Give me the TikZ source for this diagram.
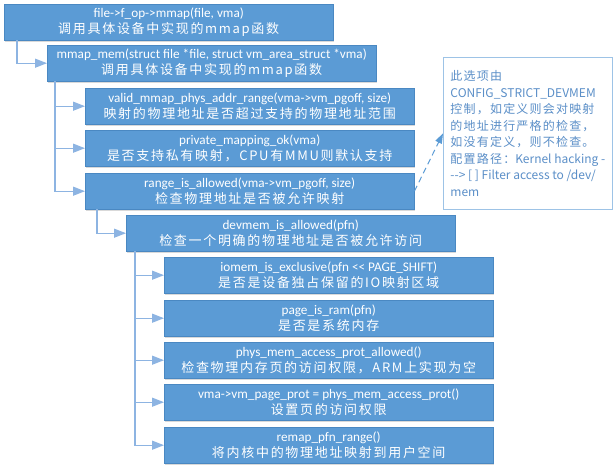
\documentclass[tikz,border=0pt]{standalone}
\usepackage{fontspec}
\setmainfont{Carlito}
\newfontfamily\cjk{Noto Sans CJK SC}
\usetikzlibrary{arrows.meta,calc,shadows}
\definecolor{boxblue}{HTML}{5B9BD5}
\definecolor{boxedge}{HTML}{4A88C2}
\definecolor{linkblue}{HTML}{8DB4E2}
\definecolor{notetext}{HTML}{5B8FC8}
\definecolor{noteborder}{HTML}{9DC3E6}
\makeatletter
\newcommand\spc[2]{\@tfor\zz:=#2\do{\zz\hskip#1}\unskip}
\makeatother
\newcommand\zhtxt[1]{{\cjk\fontsize{13pt}{16.5pt}\selectfont\spc{1.7pt}{#1}}}
\newcommand\zn[1]{\spc{1.2pt}{#1}}
\begin{document}
\begin{tikzpicture}[x=1pt,y=1pt,
  fbox/.style={anchor=north west, fill=boxblue, draw=boxedge, line width=0.4pt,
    minimum width=329pt, minimum height=36pt, inner sep=0pt, text=white,
    align=center, font=\fontsize{13.2pt}{16.5pt}\selectfont,
    drop shadow={shadow xshift=0.6pt, shadow yshift=-1.6pt, fill=black, opacity=0.15}},
  link/.style={draw=linkblue, line width=1.3pt, -{Triangle[length=12pt,width=9pt,fill=linkblue]}},
  notebox/.style={anchor=north west, draw=noteborder, fill=white, line width=0.8pt,
    minimum width=169pt, minimum height=152pt, inner xsep=6pt, inner ysep=0pt,
    text=notetext, align=left, font=\cjk\fontsize{12pt}{16.5pt}\selectfont},
  dlink/.style={draw=boxblue, line width=1pt, dash pattern=on 6pt off 4pt,
    -{Triangle[length=10pt,width=7pt,fill=boxblue]}}
]
\useasboundingbox (0,0) rectangle (613,-470);
\node[fbox] (b1) at (4,-4) {file->f\_op->mmap(file, vma)\\\zhtxt{调用具体设备中实现的mmap函数}};
\node[fbox] (b2) at (47,-45) {mmap\_mem(struct file *file, struct vm\_area\_struct *vma)\\\zhtxt{调用具体设备中实现的mmap函数}};
\node[fbox] (b3) at (85,-88) {valid\_mmap\_phys\_addr\_range(vma->vm\_pgoff, size)\\\zhtxt{映射的物理地址是否超过支持的物理地址范围}};
\node[fbox] (b4) at (85,-130) {private\_mapping\_ok(vma)\\\zhtxt{是否支持私有映射，CPU有MMU则默认支持}};
\node[fbox] (b5) at (85,-173) {range\_is\_allowed(vma->vm\_pgoff, size)\\\zhtxt{检查物理地址是否被允许映射}};
\node[fbox] (b6) at (126,-215) {devmem\_is\_allowed(pfn)\\\zhtxt{检查一个明确的物理地址是否被允许访问}};
\node[fbox] (b7) at (164,-257) {iomem\_is\_exclusive(pfn <{}< PAGE\_SHIFT)\\\zhtxt{是否是设备独占保留的IO映射区域}};
\node[fbox] (b8) at (164,-300) {page\_is\_ram(pfn)\\\zhtxt{是否是系统内存}};
\node[fbox] (b9) at (164,-342) {phys\_mem\_access\_prot\_allowed()\\\zhtxt{检查物理内存页的访问权限，ARM上实现为空}};
\node[fbox] (b10) at (164,-384) {vma->vm\_page\_prot = phys\_mem\_access\_prot()\\\zhtxt{设置页的访问权限}};
\node[fbox] (b11) at (164,-427) {remap\_pfn\_range()\\\zhtxt{将内核中的物理地址映射到用户空间}};
\node[notebox] (note) at (443,-57) {\zn{此选项由}\\
CONFIG\_STRICT\_DEVMEM\\
\zn{控制，如定义则会对映射}\\
\zn{的地址进行严格的检查，}\\
\zn{如没有定义，则不检查。}\\
\zn{配置路径：}Kernel hacking -\\
-{}-> {[} ] Filter access to /dev/\\
mem};
\draw[link] ($(b1.south west)+(13,0)$) |- (b2.west);
\foreach \t in {b3,b4,b5} \draw[link] ($(b2.south west)+(8,0)$) |- (\t.west);
\draw[link] ($(b5.south west)+(12,0)$) |- (b6.west);
\foreach \t in {b7,b8,b9,b10,b11} \draw[link] ($(b6.south west)+(9,0)$) |- (\t.west);
\draw[dlink] (b5.east) -- (note.west);
\end{tikzpicture}
\end{document}
